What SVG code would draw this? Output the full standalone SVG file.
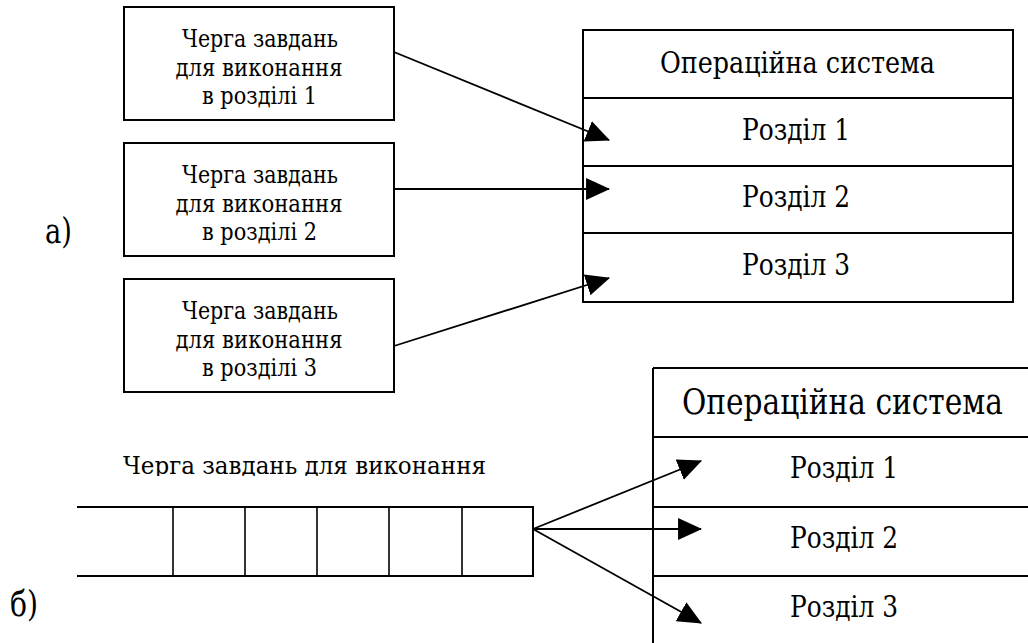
<svg xmlns="http://www.w3.org/2000/svg" width="1028" height="643" viewBox="0 0 1028 643">
<style>
.box{fill:#fff;stroke:#000;stroke-width:2}
.ln{fill:none;stroke:#000;stroke-width:2}
.thin{fill:none;stroke:#000;stroke-width:1.6}
text{font-family:'DejaVu Serif','Liberation Serif','Times New Roman',serif;fill:#000}
.t{text-anchor:middle}
.bt{font-size:25px}
.os{font-size:29px}
.lbl{font-size:36px}
.arr{fill:none;stroke:#000;stroke-width:1.8;marker-end:url(#ah)}
</style>
<defs>
<marker id="ah" markerUnits="userSpaceOnUse" markerWidth="24" markerHeight="24" viewBox="0 0 22 20" refX="21" refY="10" orient="auto">
<path d="M0,0 L22,10 L0,20 Z" fill="#000"/>
</marker>
<clipPath id="qclip"><rect x="0" y="430" width="600" height="46"/></clipPath>
</defs>
<rect width="1028" height="643" fill="#fff"/>

<text class="lbl" x="45" y="243" textLength="27" lengthAdjust="spacingAndGlyphs">а)</text>
<text class="lbl" x="10" y="616" textLength="28" lengthAdjust="spacingAndGlyphs">б)</text>

<g id="task1">
<rect class="box" x="124" y="7" width="270" height="113"/>
<text class="t bt" x="260" y="47" textLength="156" lengthAdjust="spacingAndGlyphs">Черга завдань</text>
<text class="t bt" x="259" y="75.5" textLength="167" lengthAdjust="spacingAndGlyphs">для виконання</text>
<text class="t bt" x="259.5" y="104" textLength="115" lengthAdjust="spacingAndGlyphs">в розділі 1</text>
</g>
<g id="task2">
<rect class="box" x="124" y="143" width="270" height="113"/>
<text class="t bt" x="260" y="183" textLength="156" lengthAdjust="spacingAndGlyphs">Черга завдань</text>
<text class="t bt" x="259" y="211.5" textLength="167" lengthAdjust="spacingAndGlyphs">для виконання</text>
<text class="t bt" x="259.5" y="240" textLength="115" lengthAdjust="spacingAndGlyphs">в розділі 2</text>
</g>
<g id="task3">
<rect class="box" x="124" y="279" width="270" height="113"/>
<text class="t bt" x="260" y="319" textLength="156" lengthAdjust="spacingAndGlyphs">Черга завдань</text>
<text class="t bt" x="259" y="347.5" textLength="167" lengthAdjust="spacingAndGlyphs">для виконання</text>
<text class="t bt" x="259.5" y="376" textLength="115" lengthAdjust="spacingAndGlyphs">в розділі 3</text>
</g>

<g id="os-top">
<rect class="box" x="583" y="30" width="430" height="272"/>
<line class="ln" x1="583" y1="98" x2="1013" y2="98"/>
<line class="ln" x1="583" y1="166" x2="1013" y2="166"/>
<line class="ln" x1="583" y1="233" x2="1013" y2="233"/>
<text class="t os" x="797.5" y="73" textLength="275" lengthAdjust="spacingAndGlyphs">Операційна система</text>
<text class="t os" x="796" y="140" textLength="108" lengthAdjust="spacingAndGlyphs">Розділ 1</text>
<text class="t os" x="796" y="207" textLength="108" lengthAdjust="spacingAndGlyphs">Розділ 2</text>
<text class="t os" x="796" y="275" textLength="108" lengthAdjust="spacingAndGlyphs">Розділ 3</text>
</g>

<g id="queue">
<polyline class="ln" points="77,507 533,507 533,576 77,576"/>
<line class="thin" x1="173" y1="507" x2="173" y2="576"/>
<line class="thin" x1="245" y1="507" x2="245" y2="576"/>
<line class="thin" x1="317" y1="507" x2="317" y2="576"/>
<line class="thin" x1="389" y1="507" x2="389" y2="576"/>
<line class="thin" x1="462" y1="507" x2="462" y2="576"/>
<text class="t" style="font-size:24px" x="304.5" y="474" textLength="363" lengthAdjust="spacingAndGlyphs" clip-path="url(#qclip)">Черга завдань для виконання</text>
</g>

<g id="os-bottom">
<line class="ln" x1="653" y1="368" x2="1028" y2="368"/>
<line class="ln" x1="653" y1="368" x2="653" y2="643"/>
<line class="ln" x1="653" y1="437" x2="1028" y2="437"/>
<line class="ln" x1="653" y1="507" x2="1028" y2="507"/>
<line class="ln" x1="653" y1="576" x2="1028" y2="576"/>
<text class="t" style="font-size:35px" x="842.5" y="414" textLength="321" lengthAdjust="spacingAndGlyphs">Операційна система</text>
<text class="t os" x="844" y="478" textLength="108" lengthAdjust="spacingAndGlyphs">Розділ 1</text>
<text class="t os" x="844" y="548" textLength="108" lengthAdjust="spacingAndGlyphs">Розділ 2</text>
<text class="t os" x="844" y="617" textLength="108" lengthAdjust="spacingAndGlyphs">Розділ 3</text>
</g>

<g id="connectors">
<line class="arr" x1="394" y1="52" x2="609" y2="140"/>
<line class="arr" x1="394" y1="189" x2="609" y2="189"/>
<line class="arr" x1="394" y1="346" x2="609" y2="278"/>
<line class="arr" x1="533" y1="529" x2="701" y2="461"/>
<line class="arr" x1="533" y1="529" x2="701" y2="529"/>
<line class="arr" x1="533" y1="529" x2="701" y2="623"/>
</g>
</svg>
